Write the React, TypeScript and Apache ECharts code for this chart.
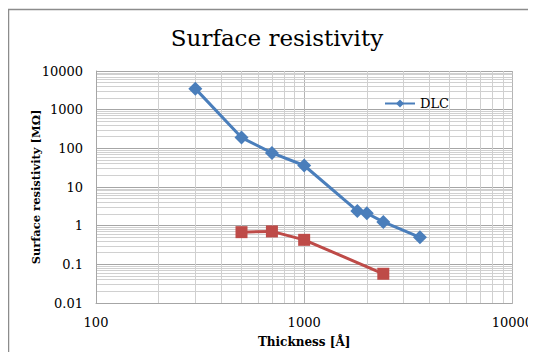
import React, { useEffect, useRef } from "react";
import * as echarts from "echarts";

const dlcThickness = [300, 500, 700, 1000, 1800, 2000, 2400, 3600];
const dlcResistivity = [3500, 190, 76, 36, 2.4, 2.1, 1.25, 0.5];
const otherThickness = [500, 700, 1000, 2400];
const otherResistivity = [0.68, 0.71, 0.43, 0.057];

const xDecades = [100, 1000];
const yDecades = [0.01, 0.1, 1, 10, 100, 1000];
const minorSteps = [2, 3, 4, 5, 6, 7, 8, 9];

const SERIF = "'DejaVu Serif', 'Liberation Serif', serif";

export default function App() {
  const ref = useRef<HTMLDivElement>(null);
  useEffect(() => {
    if (!ref.current) return;
    const chart = echarts.init(ref.current, undefined, { renderer: "svg" });
    const minorX: any[] = [];
    xDecades.forEach((d) => minorSteps.forEach((m) => minorX.push({ xAxis: d * m })));
    const minorY: any[] = [];
    yDecades.forEach((d) => minorSteps.forEach((m) => minorY.push({ yAxis: +(d * m).toPrecision(3) })));
    const fmt = (v: number) => String(+v.toPrecision(3));
    chart.setOption({
      animation: false,
      backgroundColor: "#ffffff",
      graphic: [
        {
          type: "polyline",
          shape: { points: [[8.5, 400], [8.5, 9.5], [540, 9.5]] },
          style: { stroke: "#8c8c8c", lineWidth: 1.5, fill: "none" },
          silent: true,
        },
        {
          type: "text",
          x: 277,
          y: 38,
          silent: true,
          style: {
            text: "Surface resistivity",
            fontFamily: SERIF,
            fontSize: 23,
            fill: "#000",
            align: "center",
            verticalAlign: "middle",
          },
        },
      ],
      legend: {
        data: ["DLC"],
        left: 379,
        top: 92,
        itemWidth: 30,
        itemHeight: 10,
        textStyle: { fontFamily: SERIF, fontSize: 13, color: "#000" },
        itemGap: 4,
      },
      grid: { left: 96, right: 20, top: 71, bottom: 57, containLabel: false },
      xAxis: {
        type: "log",
        logBase: 10,
        min: 100,
        max: 10000,
        name: "Thickness [Å]",
        nameLocation: "middle",
        nameGap: 33,
        nameMoveOverlap: false,
        nameTextStyle: { fontFamily: SERIF, fontSize: 12, fontWeight: "bold", color: "#000" },
        axisLine: { lineStyle: { color: "#a6a6a6" } },
        axisTick: { show: false },
        axisLabel: { fontFamily: SERIF, fontSize: 13, color: "#000", margin: 13, formatter: fmt },
        splitLine: { show: true, lineStyle: { color: "#b4b4b4", width: 1 } },
      },
      yAxis: {
        type: "log",
        logBase: 10,
        min: 0.01,
        max: 10000,
        name: "Surface resistivity [MΩ]",
        nameLocation: "middle",
        nameGap: 54,
        nameMoveOverlap: false,
        nameTextStyle: { fontFamily: SERIF, fontSize: 11.5, fontWeight: "bold", color: "#000" },
        axisLine: { show: true, lineStyle: { color: "#a6a6a6" } },
        axisTick: { show: false },
        axisLabel: {
          fontFamily: SERIF,
          fontSize: 13,
          color: "#000",
          margin: 13,
          formatter: fmt,
        },
        splitLine: { show: true, lineStyle: { color: "#a6a6a6", width: 1 } },
      },
      series: [
        {
          name: "grid-minor",
          type: "line",
          data: [],
          z: 0,
          silent: true,
          markLine: {
            z: 0,
            silent: true,
            symbol: "none",
            label: { show: false },
            animation: false,
            lineStyle: { color: "#d0d0d0", width: 1, type: "solid" },
            data: [...minorX, ...minorY],
          },
        },
        {
          name: "DLC",
          type: "line",
          data: dlcThickness.map((x, i) => [x, dlcResistivity[i]]),
          symbol: "diamond",
          symbolSize: 14,
          itemStyle: { color: "#4a7ebb" },
          lineStyle: { color: "#4a7ebb", width: 3 },
          z: 4,
        },
        {
          name: "Series2",
          type: "line",
          data: otherThickness.map((x, i) => [x, otherResistivity[i]]),
          symbol: "rect",
          symbolSize: 12,
          itemStyle: { color: "#be4b48" },
          lineStyle: { color: "#be4b48", width: 3 },
          z: 4,
        },
      ],
    });
    return () => chart.dispose();
  }, []);
  return <div ref={ref} style={{ width: 536, height: 360, margin: -8 }} />;
}
